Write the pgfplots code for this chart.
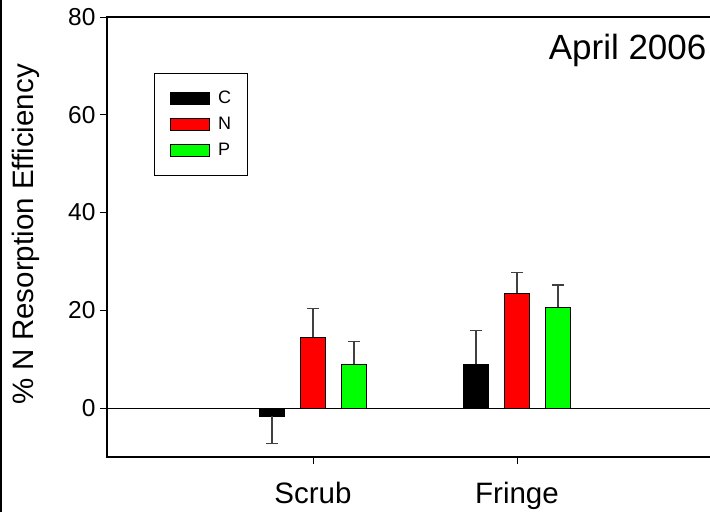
\documentclass[border=0pt]{standalone}
\usepackage{pgfplots}
\pgfplotsset{compat=1.18}
\usepackage{fontspec}
\setmainfont{Liberation Sans}

\definecolor{barred}{RGB}{255,0,0}
\definecolor{bargreen}{RGB}{0,255,0}
\definecolor{errgray}{RGB}{64,64,64}

\pgfplotsset{
  swatch/.style={legend image code/.code={%
      \draw[##1,draw=black,line width=0.8pt] (0pt,-6pt) rectangle (39pt,6pt);}},
  resbar/.style={ybar, bar width=25, bar shift=0pt, draw=black, line width=0.9pt, forget plot},
  errup/.style={error bars/.cd, y dir=plus, y explicit,
      error bar style={line width=1.2pt, color=errgray},
      error mark options={rotate=90, mark size=6pt, line width=1.2pt, color=errgray}},
  errdown/.style={error bars/.cd, y dir=minus, y explicit,
      error bar style={line width=1.2pt, color=errgray},
      error mark options={rotate=90, mark size=6pt, line width=1.2pt, color=errgray}},
}

\begin{document}
\begin{tikzpicture}[x=1pt,y=1pt]
\useasboundingbox (0,0) rectangle (710,512);
\fill[white] (0,0) rectangle (710,512);
\draw[line width=1.6pt] (0.8,0) -- (0.8,512);
\begin{axis}[
  at={(107pt,55pt)}, anchor=south west,
  scale only axis, width=620pt, height=440pt,
  xmin=0, xmax=620, ymin=-10, ymax=80,
  xtick={206,410}, xticklabels={Scrub,Fringe},
  ytick={0,20,40,60,80},
  xtick pos=bottom, ytick pos=left,
  tick align=outside, major tick length=7pt,
  tick style={black, line width=0.9pt},
  axis line style={line width=1.2pt},
  /pgf/number format/assume math mode=true,
  yticklabel style={font=\fontsize{24.5}{24.5}\selectfont, xshift=-1pt},
  xticklabel style={font=\fontsize{29.5}{29.5}\selectfont, yshift=-15pt},
  ylabel={\% N Resorption Efficiency},
  ylabel style={font=\fontsize{29.5}{29.5}\selectfont, at={(axis description cs:-0.131,0.506)}, anchor=center},
  legend style={at={(axis description cs:0.0758,0.8727)}, anchor=north west,
    draw=black, line width=0.8pt, font=\fontsize{18}{18}\selectfont,
    inner xsep=16pt, inner ysep=19pt, row sep=13pt, column sep=8pt,
    nodes={inner sep=0pt, text height=10pt, text depth=0pt, font=\fontsize{18}{18}\selectfont}},
  legend cell align=left,
]
% zero reference line
\draw[line width=1.2pt] (axis cs:0,0) -- (axis cs:620,0);

% C
\addplot[resbar, fill=black, errdown] coordinates {(165,-1.7) -= (0,5.6)};
\addplot[resbar, fill=black, errup] coordinates {(369,9.0) += (0,6.8)};
% N
\addplot[resbar, fill=barred, errup] coordinates {(206,14.5) += (0,5.8) (410,23.5) += (0,4.2)};
% P
\addplot[resbar, fill=bargreen, errup] coordinates {(247,9.0) += (0,4.7) (451,20.6) += (0,4.6)};

\addlegendimage{swatch, fill=black}
\addlegendentry{C}
\addlegendimage{swatch, fill=barred}
\addlegendentry{N}
\addlegendimage{swatch, fill=bargreen}
\addlegendentry{P}

\node[anchor=base east, font=\fontsize{35}{35}\selectfont] at (axis description cs:0.9725,0.904) {April 2006};
\end{axis}
\end{tikzpicture}
\end{document}
